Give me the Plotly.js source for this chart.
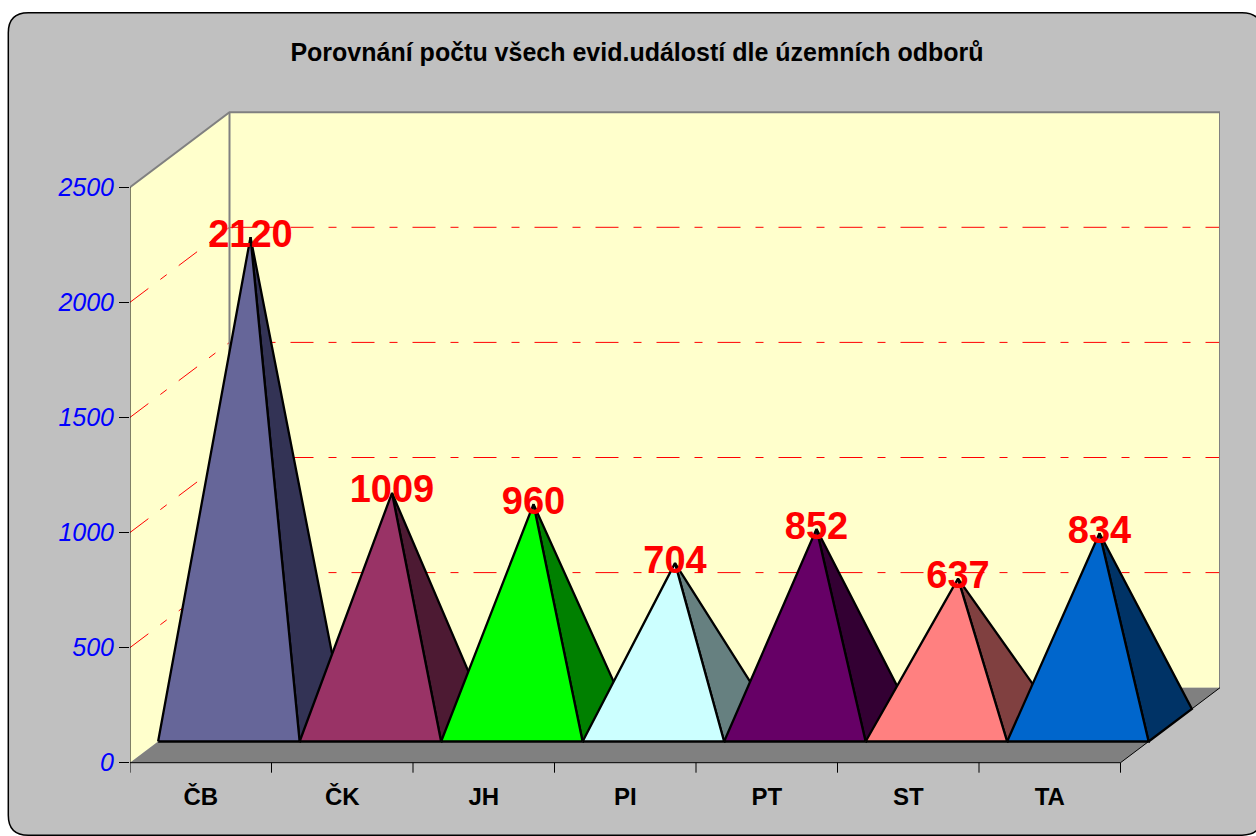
<!DOCTYPE html>
<html>
<head>
<meta charset="utf-8">
<script src="https://cdn.plot.ly/plotly-3.0.1.min.js"></script>
<style>html,body{margin:0;padding:0;background:#fff;}</style>
</head>
<body>
<div id="chart" style="width:1256px;height:836px;"></div>
<script>
// ---- data ----
const categories = ['ČB', 'ČK', 'JH', 'PI', 'PT', 'ST', 'TA'];
const values = [2120, 1009, 960, 704, 852, 637, 834];
const frontColors = ['#666699', '#993366', '#00FF00', '#CCFFFF', '#660066', '#FF8080', '#0066CC'];
const sideColors = ['#333355', '#4D1A33', '#008000', '#668080', '#330033', '#804040', '#003366'];
const yTicks = [0, 500, 1000, 1500, 2000, 2500];
const gridValues = [500, 1000, 1500, 2000];
const titleText = 'Porovnání počtu všech evid.událostí dle územních odborů';

// ---- geometry (pixel layout -> axis units) ----
const W = 1256, H = 836;
const plotL = 130, plotR = 1220, plotT = 108, plotB = 776;
const zeroPx = 762.7;             // pixel row of value 0 on the front plane
const pxPerVal = 0.2302;
const n = categories.length;
const catPx = 990.5 / n;
const D = 99.5 / catPx;           // depth offset in category units
const DY = 75 / pxPerVal;         // depth offset in value units
const yMax = 2500;
const f0 = 0.2825, f1 = 0.7175, fc = 0.5;
const xRange = [0, (plotR - plotL) / catPx];
const yRange = [-(plotB - zeroPx) / pxPerVal, (zeroPx - plotT) / pxPerVal];
const FONT = 'Liberation Sans, Arial, Helvetica, sans-serif';
const dashDot = '23px,15px,8px,15px';

const traces = [];
function poly(xs, ys, fill, lineColor, lineWidth) {
  traces.push({
    type: 'scatter', mode: 'lines', x: xs.concat([xs[0]]), y: ys.concat([ys[0]]),
    fill: 'toself', fillcolor: fill,
    line: {color: lineColor || fill, width: lineWidth === undefined ? 0 : lineWidth},
    hoverinfo: 'skip', showlegend: false
  });
}
function line(xs, ys, color, width, dash) {
  traces.push({
    type: 'scatter', mode: 'lines', x: xs, y: ys,
    line: {color: color, width: width, dash: dash || 'solid'},
    hoverinfo: 'skip', showlegend: false, connectgaps: false
  });
}

// walls
poly([0, 0, D, D], [0, yMax, yMax + DY, DY], '#FFFFCC');
poly([D, n + D, n + D, D], [DY, DY, yMax + DY, yMax + DY], '#FFFFCC');
// gridlines (left wall + back wall)
gridValues.forEach(v => {
  line([0, D], [v, v + DY], '#FF0000', 1, dashDot);
  line([D, n + D], [v + DY, v + DY], '#FF0000', 1, dashDot);
});
// wall borders
line([0, D, n + D, n + D], [yMax, yMax + DY, yMax + DY, DY], '#808080', 2);
line([D, D], [DY, yMax + DY], '#808080', 2);
// floor
poly([0, n, n + D, D], [0, 0, DY, DY], '#808080');
line([0, n, n + D], [0, 0, DY], '#000000', 1);
// vertical value axis line
line([0, 0], [0, yMax], '#000000', 1);
// category boundary tick marks
const tickLenVal = 10 / pxPerVal;
const tx = [], ty = [];
for (let i = 0; i <= n; i++) { tx.push(i, i, null); ty.push(0, -tickLenVal, null); }
line(tx, ty, '#000000', 1);

// pyramids
const apexX = [], apexY = [];
values.forEach((v, i) => {
  const flx = i + f0 * D, fly = f0 * DY;
  const frx = i + 1 + f0 * D, fry = f0 * DY;
  const brx = i + 1 + f1 * D, bry = f1 * DY;
  const ax = i + 0.5 + fc * D, ay = fc * DY + v;
  apexX.push(ax); apexY.push(ay);
  poly([frx, brx, ax], [fry, bry, ay], sideColors[i], '#000000', 2.3);
  poly([flx, frx, ax], [fly, fry, ay], frontColors[i], '#000000', 2.3);
});

// data labels
traces.push({
  type: 'scatter', mode: 'text', x: apexX, y: apexY,
  text: values.map(String), textposition: 'middle center',
  textfont: {family: FONT, size: 38, color: '#FF0000', weight: 'bold'},
  hoverinfo: 'skip', showlegend: false, cliponaxis: false
});

// rounded chart-area frame (pixel -> paper coords)
const px = x => (x - plotL) / (plotR - plotL);
const py = y => (plotB - y) / (plotB - plotT);
const fx0 = 8.3, fx1 = 1262, fy0 = 12.7, fy1 = 835.2, r = 20;
const framePath = [
  'M', px(fx0 + r), py(fy0),
  'L', px(fx1 - r), py(fy0),
  'Q', px(fx1), py(fy0), px(fx1), py(fy0 + r),
  'L', px(fx1), py(fy1 - r),
  'Q', px(fx1), py(fy1), px(fx1 - r), py(fy1),
  'L', px(fx0 + r), py(fy1),
  'Q', px(fx0), py(fy1), px(fx0), py(fy1 - r),
  'L', px(fx0), py(fy0 + r),
  'Q', px(fx0), py(fy0), px(fx0 + r), py(fy0), 'Z'
].join(' ');

const layout = {
  width: W, height: H,
  margin: {l: plotL, r: W - plotR, t: plotT, b: H - plotB, pad: 0},
  paper_bgcolor: '#FFFFFF', plot_bgcolor: 'rgba(0,0,0,0)',
  showlegend: false,
  title: {
    text: '<b>' + titleText + '</b>', xref: 'container', yref: 'container',
    x: 637 / W, xanchor: 'center', y: 1 - 52 / H, yanchor: 'middle',
    font: {family: FONT, size: 25, color: '#000000'}
  },
  xaxis: {
    range: xRange, showgrid: false, zeroline: false, showline: false,
    tickmode: 'array', tickvals: categories.map((c, i) => i + 0.5), ticktext: categories,
    ticks: '', ticklabelstandoff: 4,
    tickfont: {family: FONT, size: 24, color: '#000000', weight: 'bold'},
    fixedrange: true
  },
  yaxis: {
    range: yRange, showgrid: false, zeroline: false, showline: false,
    tickmode: 'array', tickvals: yTicks, ticktext: yTicks.map(String),
    ticks: 'outside', ticklen: 10, tickcolor: '#000000', tickwidth: 1,
    tickfont: {family: FONT, size: 25, color: '#0000FF', style: 'italic'},
    fixedrange: true
  },
  shapes: [{
    type: 'path', xref: 'paper', yref: 'paper', path: framePath, layer: 'below',
    fillcolor: '#C0C0C0', line: {color: '#000000', width: 1.5}
  }]
};

Plotly.newPlot('chart', traces, layout, {displayModeBar: false, staticPlot: true});
</script>
</body>
</html>
